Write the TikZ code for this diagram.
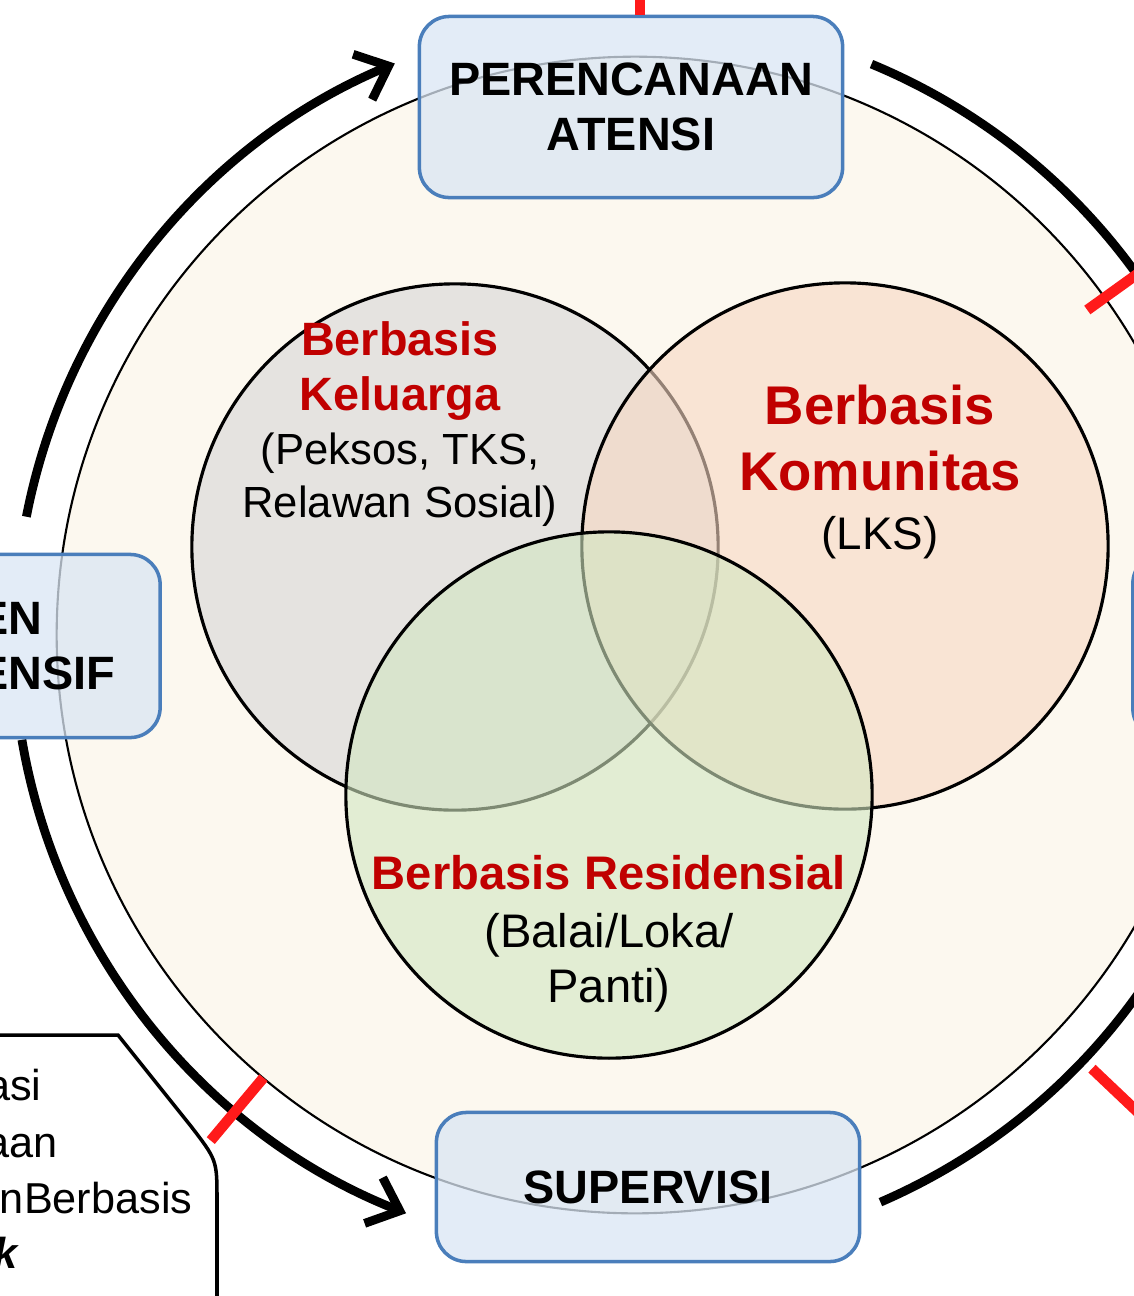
\documentclass[tikz,border=0pt]{standalone}
\usepackage{fontspec}
\setmainfont{Liberation Sans}
\usetikzlibrary{arrows.meta,calc}
\definecolor{ink}{HTML}{000000}
\definecolor{cream}{HTML}{FCF8EF}
\definecolor{boxfill}{HTML}{DAE6F4}
\definecolor{boxline}{HTML}{4A7EBB}
\definecolor{keluarga}{HTML}{D6D6D6}
\definecolor{komunitas}{HTML}{F7D8C3}
\definecolor{residens}{HTML}{D2E6C1}
\definecolor{judul}{HTML}{C00000}
\definecolor{tick}{HTML}{FF1A1A}

\begin{document}
\begin{tikzpicture}[
    x=0.01cm, y=0.01cm,
    >={Straight Barb[length=8pt,width=14pt]},
    stage/.style={draw=boxline, line width=1pt, fill=boxfill, fill opacity=0.75,
        text opacity=1, rounded corners=0.3cm, align=center, inner sep=0pt,
        font=\fontsize{13.3}{15.6}\selectfont\bfseries},
    venn/.style={circle, draw=ink, line width=0.9pt, fill=#1, fill opacity=0.6,
        minimum size=5.26cm, inner sep=0pt},
    loopline/.style={line width=2.5pt, ink},
    redtick/.style={line width=3pt, tick},
    vtitle/.style={text=judul, align=center, font=\fontsize{13.3}{15.6}\selectfont\bfseries},
    vsub/.style={align=center, font=\fontsize{12.4}{15.1}\selectfont},
    note/.style={anchor=base east, inner sep=0pt, font=\fontsize{12.3}{15}\selectfont},
]
\useasboundingbox (0,0) rectangle (1134,-1296);
\clip (0,0) rectangle (1134,-1296);

% Outer ring
\node[circle, draw=ink, line width=0.6pt, fill=cream, minimum size=11.56cm] (ring) at (635,-635) {};

% Venn circles
\node[venn=keluarga] (kel) at (455,-547) {};
\node[venn=komunitas] (kom) at (845,-546) {};
\node[venn=residens] (res) at (609,-795) {};

% Venn texts
\node[vtitle] (keltitle) at (400,-371) {Berbasis\\Keluarga};
\node[vsub] (kelsub) at (400,-480) {(Peksos, TKS,\\Relawan Sosial)};
\node[vtitle, font=\fontsize{15.5}{19}\selectfont\bfseries] (komtitle) at (880,-438) {Berbasis\\Komunitas};
\node[vsub, font=\fontsize{13}{15}\selectfont] (komsub) at (880,-538) {(LKS)};
\node[vtitle, font=\fontsize{13.4}{15.6}\selectfont\bfseries] (restitle) at (609,-873) {Berbasis Residensial};
\node[vsub, font=\fontsize{13.4}{15.6}\selectfont] (ressub) at (609,-963) {(Balai/Loka/\\Panti)};

% Cycle arcs
\draw[loopline, ->] ($(ring.center)+(169:620)$) arc[start angle=169, end angle=112.8, radius=620];
\draw[loopline] ($(ring.center)+(67.5:618)$) arc[start angle=67.5, end angle=25, radius=618];
\draw[loopline] ($(ring.center)+(-66.6:618)$) arc[start angle=-66.6, end angle=-25, radius=618];
\draw[loopline, ->] ($(ring.center)+(189.7:622)$) arc[start angle=189.7, end angle=248.4, radius=622];

% Red marks
\draw[redtick] ($(ring.center)+(35.7:557)$) -- ($(ring.center)+(35.7:700)$);
\draw[redtick] ($(ring.center)+(-43.5:630)$) -- ($(ring.center)+(-43.5:720)$);
\draw[redtick] ($(ring.center)+(-130:578)$) -- ($(ring.center)+(-130:660)$);

% Stage boxes
\node[stage, minimum width=4.23cm, minimum height=1.81cm] (plan) at (631,-107) {PERENCANAAN\\ATENSI};
\draw[redtick] ([xshift=0.09cm]plan.north) -- ++(0,40);
\node[stage, minimum width=4.23cm, minimum height=1.49cm] (supervisi) at (648,-1187) {SUPERVISI};
\node[stage, minimum width=4.66cm, minimum height=1.83cm] (asesmen) at (-73,-646) {ASESMEN\\KOMPREHENSIF};
\node[stage, minimum width=4.66cm, minimum height=1.85cm] (kanan) at (1366,-646) {};

% Callout
\draw[line width=1pt, fill=white] (-20,-1035) -- (118,-1035) -- (190,-1125)
    .. controls (217,-1160) .. (217,-1200) -- (217,-1310) -- (-20,-1310) -- cycle;
\node[note] (n1) at (42,-1100) {asi};
\node[note] (n2) at (58,-1157) {aan};
\node[note] (n3) at (193,-1213) {nBerbasis};
\node[note, font=\fontsize{12.3}{15}\selectfont\bfseries\itshape] (n4) at (18,-1268) {k};

\end{tikzpicture}
\end{document}
